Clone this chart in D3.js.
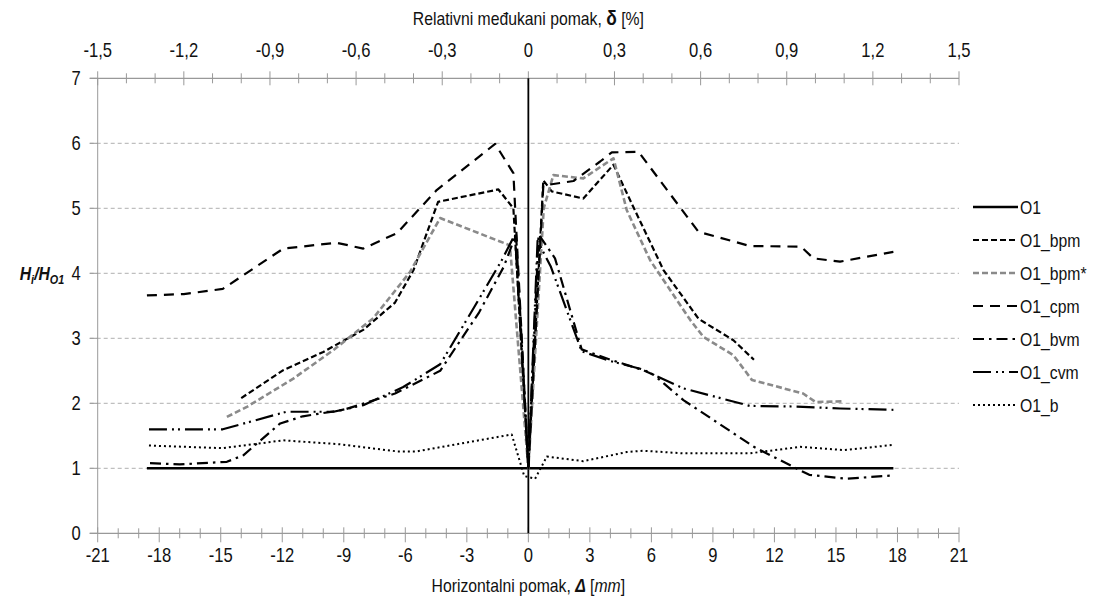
<!DOCTYPE html>
<html><head><meta charset="utf-8">
<script src="https://cdn.jsdelivr.net/npm/d3@7/dist/d3.min.js"></script>
<style>
body{margin:0;background:#fff;}
text{font-family:"Liberation Sans Narrow","Arial Narrow","Liberation Sans",Arial,sans-serif;fill:#111;}
</style></head>
<body><svg id="c" width="1100" height="599"></svg>
<script>
// ---- data ----
const seriesNames = ["O1","O1_bpm","O1_bpm*","O1_cpm","O1_bvm","O1_cvm","O1_b"];
const O1_x = [-18.6, 0, 17.8];
const O1_y = [1, 1, 1];
const bpm_x = [-14.0,-11.95,-10.0,-8.05,-6.5,-5.6,-4.4,-1.46,-0.73,0,0.73,1.14,2.68,4.15,5.12,6.59,8.3,10.0,11.0];
const bpm_y = [2.08,2.51,2.79,3.13,3.55,4.05,5.1,5.29,5.0,1.0,5.43,5.26,5.15,5.67,5.02,4.05,3.3,2.97,2.67];
const bpmS_x = [-14.7,-13.7,-11.46,-9.5,-7.56,-5.77,-4.3,-0.9,0,0.75,1.22,2.68,4.15,4.8,5.94,7.9,8.54,10.0,10.9,13.4,14.0,15.4];
const bpmS_y = [1.79,1.95,2.38,2.82,3.31,4.02,4.85,4.43,1.0,5.0,5.51,5.46,5.77,4.97,4.2,3.28,3.02,2.74,2.36,2.15,2.02,2.03];
const cpm_x = [-18.6,-16.8,-14.9,-11.95,-9.35,-8.05,-6.4,-4.47,-1.62,-0.73,0,0.73,2.2,3.5,4.07,5.37,8.29,10.8,13.3,13.9,15.2,17.8];
const cpm_y = [3.66,3.68,3.76,4.38,4.47,4.38,4.62,5.28,5.99,5.54,1.0,5.35,5.42,5.72,5.86,5.87,4.64,4.42,4.41,4.23,4.18,4.33];
const bvm_x = [-18.45,-17.0,-14.7,-13.9,-12.1,-11.0,-9.0,-6.5,-4.3,-2.4,-1.2,-0.6,0,0.5,1.3,2.6,4.0,5.6,6.1,7.56,11.0,13.25,13.7,15.5,17.8];
const bvm_y = [1.08,1.06,1.1,1.2,1.69,1.8,1.9,2.15,2.5,3.4,4.1,4.6,1.0,4.6,4.23,2.83,2.67,2.51,2.44,2.05,1.33,0.97,0.9,0.84,0.89];
const cvm_x = [-18.5,-14.9,-11.8,-9.5,-8.05,-6.1,-4.3,-2.6,-1.3,-0.65,0,0.45,1.1,2.6,4.0,5.6,6.1,7.56,10.8,13.1,15.2,17.8];
const cvm_y = [1.6,1.6,1.87,1.87,1.97,2.25,2.6,3.5,4.2,4.6,1.0,4.5,4.1,2.8,2.65,2.52,2.44,2.23,1.96,1.95,1.92,1.9];
const b_x = [-18.5,-14.9,-11.95,-9.2,-6.4,-5.45,-0.81,-0.2,0.33,0.9,2.68,4.8,5.6,7.56,10.8,13.25,15.4,17.8];
const b_y = [1.35,1.31,1.43,1.37,1.26,1.26,1.52,0.88,0.84,1.18,1.11,1.25,1.27,1.23,1.23,1.33,1.28,1.36];
const xTicks = [-21,-18,-15,-12,-9,-6,-3,0,3,6,9,12,15,18,21];
const topTicks = [-1.5,-1.2,-0.9,-0.6,-0.3,0,0.3,0.6,0.9,1.2,1.5];
const yTicks = [0,1,2,3,4,5,6,7];

const seriesX = [O1_x,bpm_x,bpmS_x,cpm_x,bvm_x,cvm_x,b_x];
const seriesY = [O1_y,bpm_y,bpmS_y,cpm_y,bvm_y,cvm_y,b_y];
const styles = [
  {c:"#000",w:2.4,d:null},
  {c:"#000",w:2.2,d:"6,3"},
  {c:"#8a8a8a",w:2.6,d:"6,3"},
  {c:"#000",w:2.2,d:"10,7"},
  {c:"#000",w:2.2,d:"11,5,2.5,5"},
  {c:"#000",w:2.2,d:"18,5,2,4,2,5"},
  {c:"#000",w:2,d:"2,3"}
];

const L=97.7,R=959,T=78.3,B=533.3;
const SX=0.83;
const svg=d3.select("#c");
const x=d3.scaleLinear().domain([-21,21]).range([L,R]);
const xt=d3.scaleLinear().domain([-1.5,1.5]).range([L,R]);
const y=d3.scaleLinear().domain([0,7]).range([B,T]);
const fmt=v=>String(Math.round(v*10)/10).replace(".",",");
// narrow text helper (emulates a condensed face)
function ntext(sel,px,py,size,anchor){
  return sel.append("text").attr("transform",`translate(${px},${py}) scale(${SX},1)`)
    .attr("text-anchor",anchor).attr("dy","0.35em").attr("font-size",size);
}

// grid
svg.append("g").selectAll("line").data(yTicks.filter(v=>v>0&&v<7)).join("line")
  .attr("x1",L-8).attr("x2",R).attr("y1",d=>y(d)).attr("y2",d=>y(d))
  .attr("stroke","#b0b0b0").attr("stroke-width",1).attr("stroke-dasharray","4,3");

const axC="#999";
// left axis
svg.append("line").attr("x1",L).attr("x2",L).attr("y1",T).attr("y2",B).attr("stroke",axC);
svg.append("g").selectAll("line").data(yTicks).join("line")
  .attr("x1",L-8).attr("x2",L).attr("y1",d=>y(d)).attr("y2",d=>y(d)).attr("stroke",axC);
const gy=svg.append("g");
yTicks.forEach(v=>ntext(gy,L-17,y(v),20,"end").text(v));

// bottom axis
svg.append("line").attr("x1",L-8).attr("x2",R).attr("y1",B).attr("y2",B).attr("stroke",axC).attr("stroke-width",1.2);
const minorB=d3.range(-21,22,1);
svg.append("g").selectAll("line").data(minorB).join("line")
  .attr("x1",d=>x(d)).attr("x2",d=>x(d)).attr("y1",d=>d%3===0?B-6:B-5).attr("y2",d=>d%3===0?B+9:B+5).attr("stroke",axC);
const gb=svg.append("g");
xTicks.forEach(v=>ntext(gb,x(v),B+22,20,"middle").text(v));

// top axis
svg.append("line").attr("x1",L-8).attr("x2",R).attr("y1",T).attr("y2",T).attr("stroke",axC).attr("stroke-width",1.2);
const minorT=d3.range(-15,16,1);
svg.append("g").selectAll("line").data(minorT).join("line")
  .attr("x1",d=>xt(d/10)).attr("x2",d=>xt(d/10)).attr("y1",d=>d%3===0?T-7:T-5).attr("y2",d=>d%3===0?T+7:T+5).attr("stroke",axC);
const gt=svg.append("g");
topTicks.forEach(v=>ntext(gt,xt(v),T-28,20,"middle").text(fmt(v)));

// zero line
svg.append("line").attr("x1",x(0)).attr("x2",x(0)).attr("y1",T).attr("y2",B).attr("stroke","#000").attr("stroke-width",1.8);

// series
const line=d3.line().x(d=>x(d[0])).y(d=>y(d[1]));
seriesNames.forEach((n,i)=>{
  const pts=seriesX[i].map((v,j)=>[v,seriesY[i][j]]);
  const s=styles[i];
  svg.append("path").attr("d",line(pts)).attr("fill","none")
    .attr("stroke",s.c).attr("stroke-width",s.w).attr("stroke-dasharray",s.d)
    .attr("stroke-linejoin","round");
});

// legend
const lg=svg.append("g");
seriesNames.forEach((n,i)=>{
  const ly=207+i*33, s=styles[i];
  lg.append("line").attr("x1",973).attr("x2",1018).attr("y1",ly).attr("y2",ly)
    .attr("stroke",s.c).attr("stroke-width",s.w).attr("stroke-dasharray",s.d);
  ntext(lg,1020,ly,19,"start").text(n);
});

// titles
const tt=ntext(svg,(L+R)/2,18,19,"middle");
tt.append("tspan").text("Relativni međukani pomak, ");
tt.append("tspan").attr("font-weight","bold").attr("font-size",21).text("δ");
tt.append("tspan").text(" [%]");
const bt=ntext(svg,(L+R)/2,585,19,"middle");
bt.append("tspan").text("Horizontalni pomak, ");
bt.append("tspan").attr("font-weight","bold").attr("font-style","italic").text("Δ");
bt.append("tspan").text(" [");
bt.append("tspan").attr("font-style","italic").text("mm");
bt.append("tspan").text("]");
const yl=svg.append("text").attr("transform",`translate(42,280) scale(${SX},1)`).attr("text-anchor","middle").attr("font-size",19)
  .attr("font-weight","bold").attr("font-style","italic");
yl.append("tspan").text("H");
yl.append("tspan").attr("font-size",13).attr("dy",4).text("i");
yl.append("tspan").attr("dy",-4).text("/H");
yl.append("tspan").attr("font-size",13).attr("dy",4).text("O1");
</script></body></html>
